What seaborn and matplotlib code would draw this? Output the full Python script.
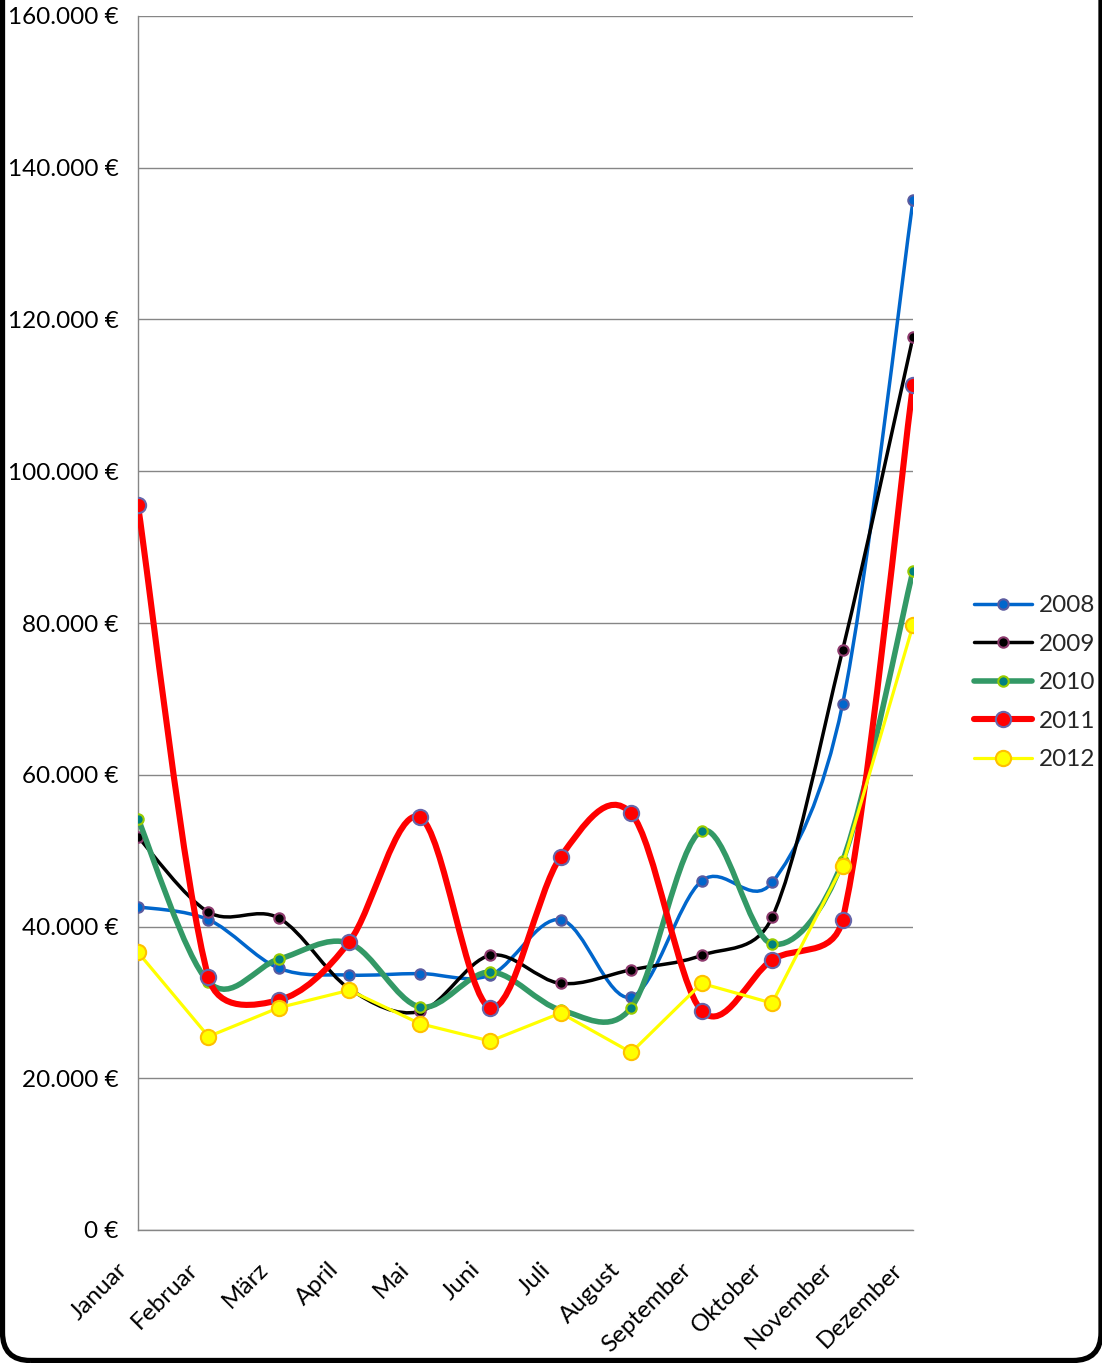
import numpy as np
import pandas as pd
import matplotlib
matplotlib.use("Agg")
import matplotlib.pyplot as plt
import seaborn as sns
from matplotlib.path import Path
from matplotlib.patches import PathPatch, FancyBboxPatch
from matplotlib.lines import Line2D
from matplotlib.ticker import FuncFormatter, MultipleLocator
from matplotlib.transforms import ScaledTranslation, IdentityTransform

months = ["Januar", "Februar", "März", "April", "Mai", "Juni", "Juli",
          "August", "September", "Oktober", "November", "Dezember"]
years = ["2008", "2009", "2010", "2011", "2012"]

v2008 = [42600, 40900, 34500, 33600, 33800, 33600, 40900, 30700, 46000, 45800, 69300, 135700]
v2009 = [51800, 41900, 41100, 31800, 28800, 36200, 32500, 34300, 36200, 41200, 76400, 117700]
v2010 = [54200, 32700, 35700, 37800, 29400, 34000, 29000, 29300, 52600, 37700, 48600, 86900]
v2011 = [95500, 33300, 30300, 38000, 54400, 29300, 49200, 54900, 28900, 35600, 40900, 111400]
v2012 = [36600, 25500, 29300, 31600, 27200, 24900, 28600, 23400, 32500, 29900, 48000, 79700]

series_values = [v2008, v2009, v2010, v2011, v2012]

line_colors = ["#0066CC", "#000000", "#339966", "#FF0000", "#FFFF00"]
marker_faces = ["#0066CC", "#000000", "#008080", "#FF0000", "#FFFF00"]
marker_edges = ["#5B5B9F", "#8E3B6E", "#99CC00", "#6666AA", "#FFC000"]
line_widths = [2.5, 2.5, 4.0, 4.4, 2.3]
marker_sizes = [7.5, 7.5, 7.5, 11.0, 11.0]
smooth = [True, True, True, True, False]

rows = []
for y, vals in zip(years, series_values):
    for i, v in enumerate(vals):
        rows.append({"Jahr": y, "x": i, "Monat": months[i], "Wert": v})
df = pd.DataFrame(rows)

sns.set_theme(style="white")
plt.rcParams["font.family"] = ["Lato", "DejaVu Sans"]

FIG_W, FIG_H = 1102, 1363
AX_L, AX_R, AX_T, AX_B = 138, 913, 16, 1230
fig = plt.figure(figsize=(FIG_W / 100, FIG_H / 100), dpi=100)
ax = fig.add_axes([AX_L / FIG_W, 1 - AX_B / FIG_H, (AX_R - AX_L) / FIG_W, (AX_B - AX_T) / FIG_H])
ax.set_xlim(0, 11)
ax.set_ylim(0, 160000)

# screen scale (pixels per data unit), used for Excel-like smoothing
sx = (AX_R - AX_L) / 11.0
sy = (AX_B - AX_T) / 160000.0


def excel_smooth_path(xs, ys):
    """Bezier path through the data points, Excel-style smoothing."""
    n = len(xs)
    P = np.column_stack([xs, ys]).astype(float)
    S = np.array([sx, sy])
    verts = [P[0]]
    codes = [Path.MOVETO]
    for i in range(n - 1):
        A, B = P[i], P[i + 1]
        p0 = P[i - 1] if i > 0 else A
        p3 = P[i + 2] if i + 2 < n else B
        d12 = np.linalg.norm((B - A) * S)
        d02 = np.linalg.norm((B - p0) * S)
        d13 = np.linalg.norm((p3 - A) * S)
        f1 = 1 / 6.0
        f2 = 1 / 6.0
        if d02 > 0 and d02 / 6.0 > d12 / 2.0:
            f1 = d12 / (2.0 * d02)
        if d13 > 0 and d13 / 6.0 > d12 / 2.0:
            f2 = d12 / (2.0 * d13)
        c1 = A + f1 * (B - p0)
        c2 = B - f2 * (p3 - A)
        verts += [c1, c2, B]
        codes += [Path.CURVE4] * 3
    return Path(verts, codes)


handles = []
for k, y in enumerate(years):
    sub = df[df["Jahr"] == y]
    z = 3 + k
    if smooth[k]:
        patch = PathPatch(excel_smooth_path(sub["x"].values, sub["Wert"].values),
                          facecolor="none", edgecolor=line_colors[k],
                          lw=line_widths[k], zorder=z, capstyle="round",
                          joinstyle="round", transform=ax.transData)
        ax.add_patch(patch)
        sns.lineplot(data=sub, x="x", y="Wert", ax=ax, linestyle="", marker="o",
                     markersize=marker_sizes[k], markerfacecolor=marker_faces[k],
                     markeredgecolor=marker_edges[k], markeredgewidth=1.5,
                     color=line_colors[k], zorder=z + 0.5, legend=False)
    else:
        sns.lineplot(data=sub, x="x", y="Wert", ax=ax, color=line_colors[k],
                     lw=line_widths[k], marker="o", markersize=marker_sizes[k],
                     markerfacecolor=marker_faces[k], markeredgecolor=marker_edges[k],
                     markeredgewidth=1.5, zorder=z, legend=False)
    handles.append(Line2D([0], [0], color=line_colors[k], lw=line_widths[k],
                          marker="o", markersize=marker_sizes[k],
                          markerfacecolor=marker_faces[k],
                          markeredgecolor=marker_edges[k], markeredgewidth=1.5,
                          solid_capstyle="round", label=y))

ax.set_xlim(0, 11)
ax.set_ylim(0, 160000)
ax.yaxis.set_major_locator(MultipleLocator(20000))
ax.yaxis.set_major_formatter(FuncFormatter(
    lambda v, p: ("{:,.0f}".format(v).replace(",", ".")) + " €"))
ax.set_xticks(range(12))
ax.set_xticklabels(months)
ax.set_xticks(np.arange(0.5, 11, 1.0), minor=True)
ax.set_xlabel("")
ax.set_ylabel("")

ax.grid(axis="y", color="#868686", lw=1.0)
ax.grid(axis="x", visible=False)
ax.set_axisbelow(True)
for s in ["top", "right"]:
    ax.spines[s].set_visible(False)
for s in ["left", "bottom"]:
    ax.spines[s].set_color("#868686")
    ax.spines[s].set_linewidth(1.0)
    ax.spines[s].set_zorder(2.5)

ax.tick_params(axis="y", length=0, pad=14, labelsize=17.5, labelcolor="black")
ax.tick_params(axis="x", which="both", direction="in", length=6, width=1,
               color="#868686", pad=26, labelsize=17.5, labelcolor="black")
offset = ScaledTranslation(-0.14, 0, fig.dpi_scale_trans)
for lab in ax.get_xticklabels():
    lab.set_rotation(45)
    lab.set_ha("right")
    lab.set_va("center")
    lab.set_rotation_mode("anchor")
    lab.set_transform(lab.get_transform() + offset)

fig.legend(handles=handles, loc="center left", bbox_to_anchor=(974 / FIG_W, 0.499),
           frameon=False, fontsize=17.5, handlelength=2.4, handletextpad=0.28,
           labelspacing=0.72, borderpad=0, borderaxespad=0)

frame = FancyBboxPatch((2.5, 2.5), 1098.5, 1500, boxstyle="round,pad=0,rounding_size=28",
                       transform=IdentityTransform(), facecolor="none",
                       edgecolor="black", lw=3.8, clip_on=False)
fig.patches.append(frame)

fig.savefig("out.png", dpi=100)
